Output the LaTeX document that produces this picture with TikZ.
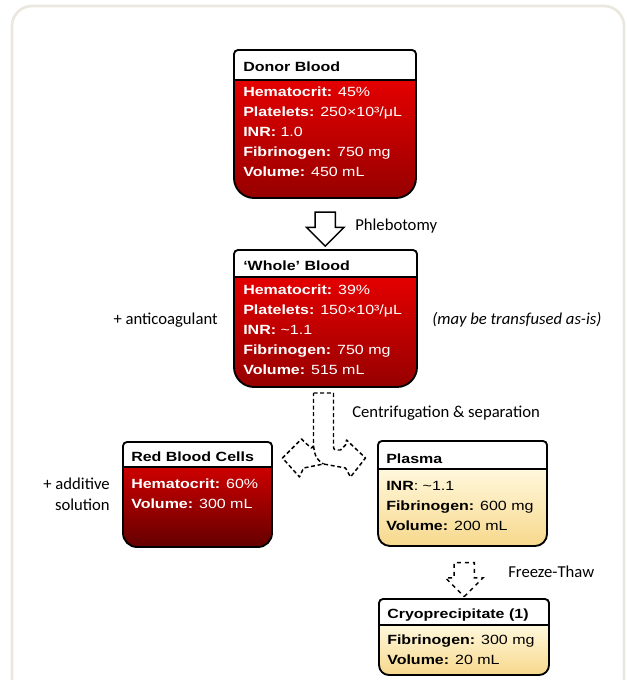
\documentclass[tikz,border=0pt]{standalone}
\usepackage{fontspec}
\setmainfont{Liberation Sans}[FakeStretch=1.2]
\newfontfamily\calfont{Carlito}
\usetikzlibrary{shapes.arrows,calc}

\tikzset{
  card_line/.style={line width=1.4pt, line join=round, line cap=round},
  card_title/.style={anchor=base west, inner sep=0pt, font=\bfseries\fontsize{10}{12}\selectfont},
  card_text/.style={anchor=north west, inner sep=0pt, align=left, font=\fontsize{10}{15}\selectfont},
  side_note/.style={inner sep=0pt, font=\calfont\fontsize{12.5}{16}\selectfont},
  block_arrow/.style={single arrow, draw, fill=white, line width=1.1pt, rotate=-90,
    inner xsep=0pt, inner ysep=7.1pt, single arrow head extend=6.4pt,
    single arrow tip angle=90, minimum height=25.5pt},
  split_arrow/.style={line width=1.1pt, line join=round, dash pattern=on 3pt off 2pt},
}

% card: name, left, right, top, header bottom, bottom, radius, top colour, bottom colour
\newcommand{\bloodcard}[9]{%
  \shade[top color=#8, bottom color=#9, rounded corners=#7] (#2,#5) -- (#2,#6) -- (#3,#6) -- (#3,#5);
  \draw[card_line, fill=white, rounded corners=3pt] (#2,#5) -- (#2,#4) -- (#3,#4) -- (#3,#5);
  \draw[card_line, rounded corners=#7] (#2,#5) -- (#2,#6) -- (#3,#6) -- (#3,#5);
  \draw[card_line] (#2,#5) -- (#3,#5);
  \coordinate (#1_top) at ({(#2+#3)/2},#4);
  \coordinate (#1_bot) at ({(#2+#3)/2},#6);
}

\begin{document}
\begin{tikzpicture}[x=0.75pt, y=-0.75pt]
    \definecolor{frame_beige}{RGB}{234,231,222}
    \definecolor{red_top}{RGB}{228,0,0}
    \definecolor{red_bottom}{RGB}{150,0,0}
    \definecolor{rbc_top}{RGB}{205,0,0}
    \definecolor{rbc_bottom}{RGB}{100,0,0}
    \definecolor{plasma_top}{RGB}{255,248,220}
    \definecolor{plasma_bottom}{RGB}{247,216,140}

    \useasboundingbox (0,0) rectangle (626,680);
    \clip (0,0) rectangle (626,680);
    % outer panel
    \draw[frame_beige, line width=2pt, rounded corners=15pt] (12,6) rectangle (624,720);

    % the five cards
    \bloodcard{donor}{234}{416}{50}{80}{198}{15pt}{red_top}{red_bottom}
    \bloodcard{whole}{234}{417}{250}{277}{387}{15pt}{red_top}{red_bottom}
    \bloodcard{rbc}{123}{272}{442}{467}{547}{10.5pt}{rbc_top}{rbc_bottom}
    \bloodcard{plasma}{378}{547}{441}{469}{546}{9pt}{plasma_top}{plasma_bottom}
    \bloodcard{cryo}{379}{549}{599}{625}{675}{7.5pt}{plasma_top}{plasma_bottom}

    \node[card_title] (donorT) at (243,72) {Donor Blood};
    \node[card_text, text=white] (donor) at (243,87) {\textbf{Hematocrit:} 45\%\\
      \textbf{Platelets:} 250×10³/μL\\ \textbf{INR:} 1.0\\
      \textbf{Fibrinogen:} 750 mg\\ \textbf{Volume:} 450 mL};

    \node[card_title] (wholeT) at (243,271) {‘Whole’ Blood};
    \node[card_text, text=white] (whole) at (243,285) {\textbf{Hematocrit:} 39\%\\
      \textbf{Platelets:} 150×10³/μL\\ \textbf{INR:} \textasciitilde1.1\\
      \textbf{Fibrinogen:} 750 mg\\ \textbf{Volume:} 515 mL};

    \node[card_title] (rbcT) at (131,461) {Red Blood Cells};
    \node[card_text, text=white] (rbc) at (131,479) {\textbf{Hematocrit:} 60\%\\
      \textbf{Volume:} 300 mL};

    \node[card_title] (plasmaT) at (386,463) {Plasma};
    \node[card_text] (plasma) at (386,481) {\textbf{INR}: \textasciitilde1.1\\
      \textbf{Fibrinogen:} 600 mg\\ \textbf{Volume:} 200 mL};

    \node[card_title] (cryoT) at (387,618) {Cryoprecipitate (1)};
    \node[card_text] (cryo) at (387,635) {\textbf{Fibrinogen:} 300 mg\\
      \textbf{Volume:} 20 mL};

    % arrows between the cards
    \node[block_arrow] (phleb) at ($(donor_bot)!0.5!(whole_top)$) {};
    \node[block_arrow, dashed] (freeze) at ($(plasma_bot)!0.5!(cryo_top)+(1,2)$) {};
    \draw[split_arrow, shift={(whole_bot)}] (-12,6) -- (8,6) -- (8,58)
      .. controls (8,63) .. (15,63) -- (20,58) -- (21,53) -- (40,71) -- (25,90)
      -- (20,81) -- (-2,77) -- (-22,81) -- (-26,90) -- (-43,71) -- (-24,52)
      -- (-20,56) -- (-14,61) -- (-12,59) -- cycle;
    \draw[split_arrow, shift={(whole_bot)}] (-12,59) .. controls (-10,71) .. (-2,77);

    % side notes
    \node[side_note, anchor=west] (phlebL) at (355,226) {Phlebotomy};
    \node[side_note, anchor=east] (anticoag) at (218,320) {+ anticoagulant};
    \node[side_note, anchor=west] (asis) at (432,320) {\itshape (may be transfused as-is)};
    \node[side_note, anchor=west] (centri) at (352,413) {Centrifugation \& separation};
    \node[side_note, anchor=east, align=right] (additive) at (110,494) {+ additive\\solution};
    \node[side_note, anchor=west] (freezeL) at (508,572) {Freeze-Thaw};
\end{tikzpicture}
\end{document}
